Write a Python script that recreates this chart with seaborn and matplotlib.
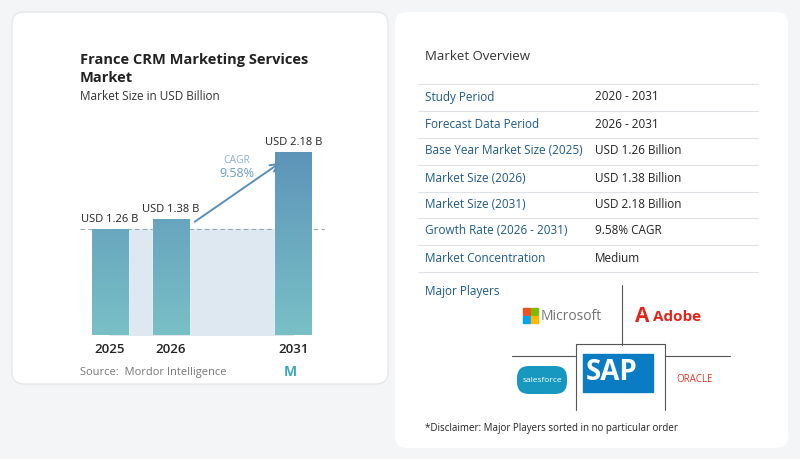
import numpy as np
import pandas as pd
import seaborn as sns
import matplotlib.pyplot as plt
from matplotlib.patches import FancyBboxPatch, Rectangle
from matplotlib.colors import LinearSegmentedColormap

years = ["2025", "2026", "2031"]
positions = [0, 1, 3]
values = [1.26, 1.38, 2.18]
bar_labels = ["USD 1.26 B", "USD 1.38 B", "USD 2.18 B"]
cagr_text = "9.58%"

row_labels = ["Study Period", "Forecast Data Period", "Base Year Market Size (2025)",
              "Market Size (2026)", "Market Size (2031)", "Growth Rate (2026 - 2031)",
              "Market Concentration"]
row_values = ["2020 - 2031", "2026 - 2031", "USD 1.26 Billion", "USD 1.38 Billion",
              "USD 2.18 Billion", "9.58% CAGR", "Medium"]

sns.set_style("white")
plt.rcParams['font.family'] = ['Open Sans', 'DejaVu Sans']

W, H = 800, 459
fig = plt.figure(figsize=(8, 4.59), dpi=100)
fig.patch.set_facecolor("#f4f5f7")
bg = fig.add_axes([0, 0, 1, 1])
bg.set_xlim(0, W)
bg.set_ylim(H, 0)
bg.axis("off")

# cards
bg.add_patch(FancyBboxPatch((12, 12), 376, 372, boxstyle="round,pad=0,rounding_size=12",
                            fc="white", ec="#e6e8ec", lw=1))
bg.add_patch(FancyBboxPatch((395, 12), 393, 436, boxstyle="round,pad=0,rounding_size=12",
                            fc="white", ec="white", lw=0))

bg.text(80, 60, "France CRM Marketing Services", fontsize=10.5, fontweight="bold", color="#222", va="center")
bg.text(80, 78, "Market", fontsize=10.5, fontweight="bold", color="#222", va="center")
bg.text(80, 96, "Market Size in USD Billion", fontsize=8.5, color="#333", va="center")
bg.text(80, 372, "Source:  Mordor Intelligence", fontsize=8, color="#777", va="center")
bg.text(290, 372, "M", fontsize=10, fontweight="bold", color="#3aa9b8", va="center", ha="center")

# right table
bg.text(425, 56, "Market Overview", fontsize=9.5, color="#333", va="center")
row_y = [97, 124, 151, 178, 204, 231, 258]
for i, (lab, val) in enumerate(zip(row_labels, row_values)):
    y = row_y[i]
    bg.text(425, y, lab, fontsize=8.5, color="#1f5a86", va="center")
    bg.text(595, y, val, fontsize=8.5, color="#222", va="center")
    bg.plot([418, 758], [y + 13.5, y + 13.5], color="#dfe3e8", lw=0.8)
bg.plot([418, 758], [83.5, 83.5], color="#dfe3e8", lw=0.8)
bg.text(425, 292, "Major Players", fontsize=8.5, color="#1f5a86", va="center")

# logo area
bg.plot([622, 622], [285, 345], color="#555", lw=0.8)
bg.plot([512, 575], [356, 356], color="#555", lw=0.8)
bg.plot([665, 730], [356, 356], color="#555", lw=0.8)
bg.plot([576, 576, 665, 665], [410, 344, 344, 410], color="#555", lw=0.8)
for dx, dy, c in [(0, 0, "#f25022"), (8, 0, "#7fba00"), (0, 8, "#00a4ef"), (8, 8, "#ffb900")]:
    bg.add_patch(Rectangle((523 + dx, 308 + dy), 7, 7, color=c))
bg.text(541, 317, "Microsoft", fontsize=10, color="#737373", va="center")
bg.text(635, 317, "A", fontsize=15, fontweight="bold", color="#e1251b", va="center")
bg.text(653, 317, "Adobe", fontsize=11, fontweight="bold", color="#e1251b", va="center")
bg.add_patch(FancyBboxPatch((517, 366), 50, 28, boxstyle="round,pad=0,rounding_size=12",
                            fc="#1798c1", ec="none"))
bg.text(542, 380, "salesforce", fontsize=6, color="white", ha="center", va="center")
bg.add_patch(Rectangle((583, 354), 70, 38, color="#0a7cc4"))
bg.text(612, 373, "SAP", fontsize=20, fontweight="bold", color="white", ha="center", va="center")
bg.text(695, 379, "ORACLE", fontsize=7, color="#e0362c", ha="center", va="center")
bg.text(425, 429, "*Disclaimer: Major Players sorted in no particular order", fontsize=7, color="#222", va="center")

# bar chart
ax = fig.add_axes([80 / W, 1 - 335 / H, 245 / W, 205 / H])
df = pd.DataFrame({"pos": positions, "value": values})
sns.barplot(data=df, x="pos", y="value", native_scale=True, width=0.6,
            color="#5d92b8", ax=ax, zorder=3)
ax.set_xlim(-0.49, 3.52)
ax.set_ylim(0, 2.18 * 205 / 183)
ax.axis("off")

cmap = LinearSegmentedColormap.from_list("g", ["#79c0c6", "#5a8fb8"])
grad = np.linspace(0, 1, 256).reshape(-1, 1)
for p in ax.patches:
    x0, y0, w, h = p.get_x(), p.get_y(), p.get_width(), p.get_height()
    im = ax.imshow(grad, cmap=cmap, origin="lower", aspect="auto",
                   extent=[x0, x0 + w, 0, ax.get_ylim()[1]], zorder=4)
    im.set_clip_path(p)
ax.set_xlim(-0.49, 3.52)
ax.set_ylim(0, 2.18 * 205 / 183)

ax.fill_between([positions[0], positions[2]], 0, values[0], color="#dde8f1", zorder=1)
ax.axhline(values[0], color="#9aa8b4", ls=(0, (4, 3)), lw=0.8, zorder=2)
ax.axhline(0, color="#c8ccd0", lw=0.8, zorder=5)

for x, v, lab in zip(positions, values, bar_labels):
    ax.text(x, v + 0.05, lab, ha="center", va="bottom", fontsize=8, color="#222", zorder=6)
for x, yr in zip(positions, years):
    ax.text(x, -0.1, yr, ha="center", va="top", fontsize=9.5, color="#222", fontweight="semibold")

ax.annotate("", xy=(2.82, 2.07), xytext=(1.35, 1.33),
            arrowprops=dict(arrowstyle="->", color="#5a8fb8", lw=1.4, mutation_scale=14), zorder=6)
ax.text(2.08, 2.05, "CAGR", ha="center", fontsize=7.5, color="#8fb3cc")
ax.text(2.08, 1.88, cagr_text, ha="center", fontsize=9, color="#6a9cc0")

fig.savefig("out.png", dpi=100, facecolor=fig.get_facecolor())
